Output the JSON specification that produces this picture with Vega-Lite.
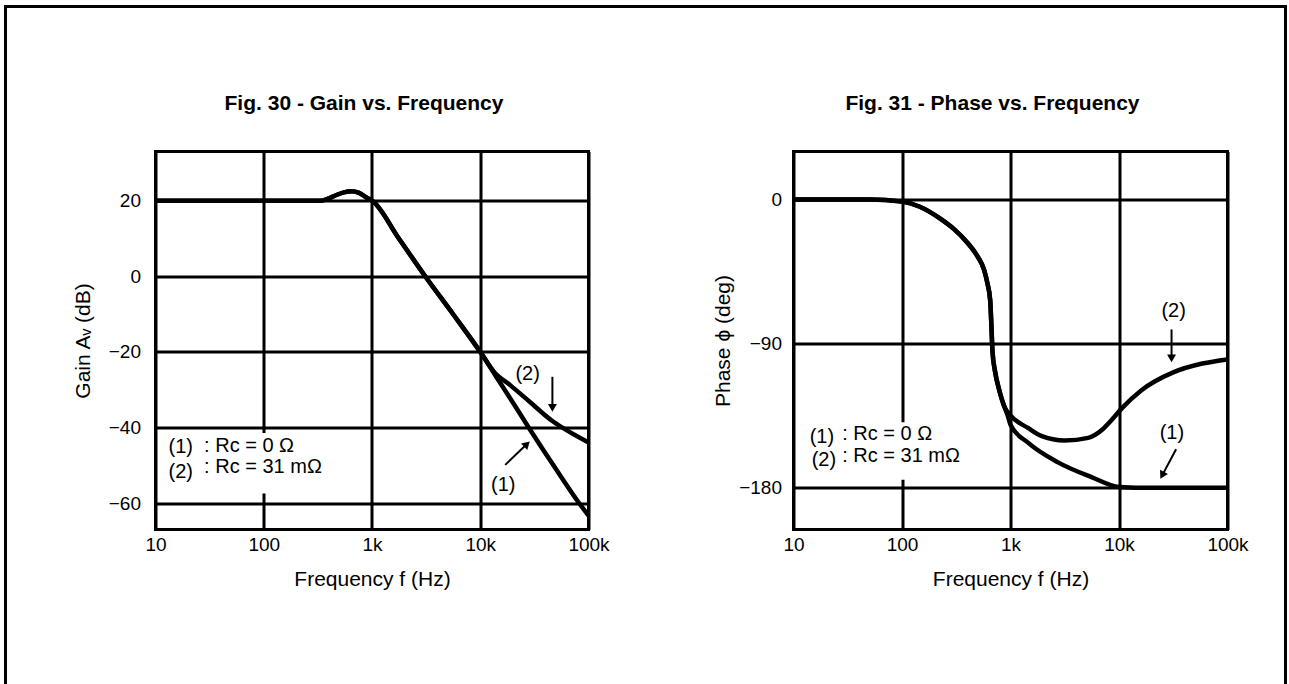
{
  "$schema": "https://vega.github.io/schema/vega-lite/v6.json",
  "background": "white",
  "padding": {"left": 2.5, "top": 3.5, "right": 0, "bottom": 0},
  "columns": 5,
  "spacing": 0,
  "bounds": "flush",
  "align": "each",
  "config": {
    "font": "Liberation Sans",
    "view": {"stroke": null},
    "axis": {
      "grid": true, "gridColor": "black", "gridWidth": 3, "gridOpacity": 1,
      "domain": false, "ticks": false, "tickSize": 0,
      "labelFontSize": 19, "labelColor": "black",
      "titleFontSize": 21, "titleFontWeight": "normal", "titleColor": "black"
    },
    "title": {"fontSize": 21, "fontWeight": "bold", "color": "black", "anchor": "middle"}
  },
  "concat": [
    {"width": 150, "height": 145, "data": {"values": [{}]}, "layer": [
      {"mark": {"type": "rule", "color": "black", "strokeWidth": 3, "strokeCap": "square"}, "encoding": {"y": {"datum": 1, "type": "quantitative", "scale": {"domain": [0, 1]}, "axis": null}}},
      {"mark": {"type": "rule", "color": "black", "strokeWidth": 3, "strokeCap": "square"}, "encoding": {"x": {"datum": 0, "type": "quantitative", "scale": {"domain": [0, 1]}, "axis": null}}}
    ]},
    {"width": 433, "height": 145, "data": {"values": [{}]},
      "mark": {"type": "rule", "color": "black", "strokeWidth": 3, "strokeCap": "square"}, "encoding": {"y": {"datum": 1, "type": "quantitative", "scale": {"domain": [0, 1]}, "axis": null}}},
    {"width": 205, "height": 145, "data": {"values": [{}]},
      "mark": {"type": "rule", "color": "black", "strokeWidth": 3, "strokeCap": "square"}, "encoding": {"y": {"datum": 1, "type": "quantitative", "scale": {"domain": [0, 1]}, "axis": null}}},
    {"width": 434, "height": 145, "data": {"values": [{}]},
      "mark": {"type": "rule", "color": "black", "strokeWidth": 3, "strokeCap": "square"}, "encoding": {"y": {"datum": 1, "type": "quantitative", "scale": {"domain": [0, 1]}, "axis": null}}},
    {"width": 58, "height": 145, "data": {"values": [{}]}, "layer": [
      {"mark": {"type": "rule", "color": "black", "strokeWidth": 3, "strokeCap": "square"}, "encoding": {"y": {"datum": 1, "type": "quantitative", "scale": {"domain": [0, 1]}, "axis": null}}},
      {"mark": {"type": "rule", "color": "black", "strokeWidth": 3, "strokeCap": "square"}, "encoding": {"x": {"datum": 1, "type": "quantitative", "scale": {"domain": [0, 1]}, "axis": null}}}
    ]},
    {"width": 150, "height": 532, "data": {"values": [{}]},
      "mark": {"type": "rule", "color": "black", "strokeWidth": 3, "strokeCap": "square"}, "encoding": {"x": {"datum": 0, "type": "quantitative", "scale": {"domain": [0, 1]}, "axis": null}}},
    {
      "width": 433, "height": 378,
      "view": {"stroke": "black", "strokeWidth": 3},
      "title": {"text": "Fig. 30 - Gain vs. Frequency", "offset": 38, "dx": -8},
      "data": {"values": [
        {"kind": "box", "f": 12, "v": -41.5, "f2": 290, "v2": -57.5},
        {"kind": "curve", "series": "1", "f": 10, "v": 20},
        {"kind": "curve", "series": "1", "f": 100, "v": 20},
        {"kind": "curve", "series": "1", "f": 200, "v": 20},
        {"kind": "curve", "series": "1", "f": 340, "v": 20},
        {"kind": "curve", "series": "1", "f": 400, "v": 20.6},
        {"kind": "curve", "series": "1", "f": 470, "v": 21.5},
        {"kind": "curve", "series": "1", "f": 550, "v": 22.2},
        {"kind": "curve", "series": "1", "f": 650, "v": 22.5},
        {"kind": "curve", "series": "1", "f": 750, "v": 22.1},
        {"kind": "curve", "series": "1", "f": 850, "v": 21.2},
        {"kind": "curve", "series": "1", "f": 930, "v": 20.5},
        {"kind": "curve", "series": "1", "f": 1000, "v": 20},
        {"kind": "curve", "series": "1", "f": 1770, "v": 10},
        {"kind": "curve", "series": "1", "f": 3100, "v": 0},
        {"kind": "curve", "series": "1", "f": 5600, "v": -10},
        {"kind": "curve", "series": "1", "f": 10000, "v": -20},
        {"kind": "curve", "series": "1", "f": 14000, "v": -26.5},
        {"kind": "curve", "series": "1", "f": 20000, "v": -33.4},
        {"kind": "curve", "series": "1", "f": 28000, "v": -40},
        {"kind": "curve", "series": "1", "f": 50000, "v": -51},
        {"kind": "curve", "series": "1", "f": 81800, "v": -60},
        {"kind": "curve", "series": "1", "f": 100000, "v": -63.3},
        {"kind": "curve", "series": "2", "f": 10, "v": 20},
        {"kind": "curve", "series": "2", "f": 100, "v": 20},
        {"kind": "curve", "series": "2", "f": 200, "v": 20},
        {"kind": "curve", "series": "2", "f": 340, "v": 20},
        {"kind": "curve", "series": "2", "f": 400, "v": 20.6},
        {"kind": "curve", "series": "2", "f": 470, "v": 21.5},
        {"kind": "curve", "series": "2", "f": 550, "v": 22.2},
        {"kind": "curve", "series": "2", "f": 650, "v": 22.5},
        {"kind": "curve", "series": "2", "f": 750, "v": 22.1},
        {"kind": "curve", "series": "2", "f": 850, "v": 21.2},
        {"kind": "curve", "series": "2", "f": 930, "v": 20.5},
        {"kind": "curve", "series": "2", "f": 1000, "v": 20},
        {"kind": "curve", "series": "2", "f": 1770, "v": 10},
        {"kind": "curve", "series": "2", "f": 3100, "v": 0},
        {"kind": "curve", "series": "2", "f": 5600, "v": -10},
        {"kind": "curve", "series": "2", "f": 10000, "v": -20},
        {"kind": "curve", "series": "2", "f": 13400, "v": -25.3},
        {"kind": "curve", "series": "2", "f": 18900, "v": -28.8},
        {"kind": "curve", "series": "2", "f": 28600, "v": -33.2},
        {"kind": "curve", "series": "2", "f": 46400, "v": -38.3},
        {"kind": "curve", "series": "2", "f": 57000, "v": -40},
        {"kind": "curve", "series": "2", "f": 100000, "v": -44},
        {"kind": "arrow", "f": 46400, "v": -26.6, "f2": 46400, "v2": -34.8},
        {"kind": "arrow", "f": 17000, "v": -49.9, "f2": 27000, "v2": -44.4},
        {"kind": "headdown", "f": 46400, "v": -34.8},
        {"kind": "headdiag", "f": 27000, "v": -44.4},
        {"kind": "legend", "f": 13.2, "v": -46.8, "label": "(1)"},
        {"kind": "legend", "f": 28.1, "v": -46.4, "label": ": Rc = 0 Ω"},
        {"kind": "legend", "f": 13.2, "v": -53.5, "label": "(2)"},
        {"kind": "legend", "f": 28.1, "v": -52.1, "label": ": Rc = 31 mΩ"},
        {"kind": "callout", "f": 27400, "v": -27.4, "label": "(2)"},
        {"kind": "callout", "f": 16300, "v": -56.7, "label": "(1)"}
      ]},
      "layer": [
        {
          "transform": [{"filter": "datum.kind == 'box'"}],
          "mark": {"type": "rect", "color": "white"},
          "encoding": {
            "x": {"field": "f", "type": "quantitative",
              "scale": {"type": "log", "domain": [10, 100000], "nice": false},
              "axis": {"values": [10, 100, 1000, 10000, 100000], "labelExpr": "datum.value >= 1000 ? format(datum.value / 1000, 'd') + 'k' : format(datum.value, 'd')", "labelFlush": false, "labelPadding": 6, "title": "Frequency f (Hz)", "titlePadding": 14}},
            "x2": {"field": "f2"},
            "y": {"field": "v", "type": "quantitative",
              "scale": {"domain": [-67, 33], "nice": false, "zero": false},
              "axis": {"values": [-60, -40, -20, 0, 20], "labelPadding": 15, "title": "Gain Aᵥ (dB)", "titlePadding": 15}},
            "y2": {"field": "v2"}
          }
        },
        {
          "transform": [{"filter": "datum.kind == 'curve'"}],
          "mark": {"type": "line", "interpolate": "monotone", "color": "black", "strokeWidth": 4.5},
          "encoding": {
            "x": {"field": "f", "type": "quantitative"},
            "y": {"field": "v", "type": "quantitative"},
            "detail": {"field": "series"}
          }
        },
        {
          "transform": [{"filter": "datum.kind == 'arrow'"}],
          "mark": {"type": "rule", "color": "black", "strokeWidth": 2},
          "encoding": {
            "x": {"field": "f", "type": "quantitative"}, "x2": {"field": "f2"},
            "y": {"field": "v", "type": "quantitative"}, "y2": {"field": "v2"}
          }
        },
        {
          "transform": [{"filter": "datum.kind == 'headdown'"}],
          "mark": {"type": "point", "shape": "triangle-down", "filled": true, "color": "black", "size": 80, "opacity": 1},
          "encoding": {"x": {"field": "f", "type": "quantitative"}, "y": {"field": "v", "type": "quantitative"}}
        },
        {
          "transform": [{"filter": "datum.kind == 'headdiag'"}],
          "mark": {"type": "point", "shape": "triangle-up", "angle": 46, "filled": true, "color": "black", "size": 80, "opacity": 1},
          "encoding": {"x": {"field": "f", "type": "quantitative"}, "y": {"field": "v", "type": "quantitative"}}
        },
        {
          "transform": [{"filter": "datum.kind == 'legend'"}],
          "mark": {"type": "text", "align": "left", "baseline": "alphabetic", "fontSize": 20, "color": "black"},
          "encoding": {"x": {"field": "f", "type": "quantitative"}, "y": {"field": "v", "type": "quantitative"}, "text": {"field": "label"}}
        },
        {
          "transform": [{"filter": "datum.kind == 'callout'"}],
          "mark": {"type": "text", "align": "center", "baseline": "alphabetic", "fontSize": 20, "color": "black"},
          "encoding": {"x": {"field": "f", "type": "quantitative"}, "y": {"field": "v", "type": "quantitative"}, "text": {"field": "label"}}
        }
      ]
    },
    {"width": 205, "height": 378, "data": {"values": [{}]}, "mark": {"type": "point", "opacity": 0}, "encoding": {}},
    {
      "width": 434, "height": 378,
      "view": {"stroke": "black", "strokeWidth": 3},
      "title": {"text": "Fig. 31 - Phase vs. Frequency", "offset": 38, "dx": -18},
      "data": {"values": [
        {"kind": "box", "f": 12, "v": -139, "f2": 290, "v2": -175},
        {"kind": "curve", "series": "1", "f": 10, "v": 0},
        {"kind": "curve", "series": "1", "f": 50, "v": 0},
        {"kind": "curve", "series": "1", "f": 100, "v": -1.3},
        {"kind": "curve", "series": "1", "f": 146, "v": -4.5},
        {"kind": "curve", "series": "1", "f": 225, "v": -11.9},
        {"kind": "curve", "series": "1", "f": 300, "v": -18.3},
        {"kind": "curve", "series": "1", "f": 399, "v": -26.8},
        {"kind": "curve", "series": "1", "f": 495, "v": -35.3},
        {"kind": "curve", "series": "1", "f": 571, "v": -43.9},
        {"kind": "curve", "series": "1", "f": 613, "v": -52.3},
        {"kind": "curve", "series": "1", "f": 650, "v": -63},
        {"kind": "curve", "series": "1", "f": 668, "v": -80},
        {"kind": "curve", "series": "1", "f": 682, "v": -94.7},
        {"kind": "curve", "series": "1", "f": 719, "v": -107},
        {"kind": "curve", "series": "1", "f": 789, "v": -119.2},
        {"kind": "curve", "series": "1", "f": 879, "v": -129.4},
        {"kind": "curve", "series": "1", "f": 944, "v": -135},
        {"kind": "curve", "series": "1", "f": 1000, "v": -140.6},
        {"kind": "curve", "series": "1", "f": 1450, "v": -151.8},
        {"kind": "curve", "series": "1", "f": 2740, "v": -164.1},
        {"kind": "curve", "series": "1", "f": 5580, "v": -173.3},
        {"kind": "curve", "series": "1", "f": 10000, "v": -179.4},
        {"kind": "curve", "series": "1", "f": 20000, "v": -180},
        {"kind": "curve", "series": "1", "f": 100000, "v": -180},
        {"kind": "curve", "series": "2", "f": 10, "v": 0},
        {"kind": "curve", "series": "2", "f": 50, "v": 0},
        {"kind": "curve", "series": "2", "f": 100, "v": -1.3},
        {"kind": "curve", "series": "2", "f": 146, "v": -4.5},
        {"kind": "curve", "series": "2", "f": 225, "v": -11.9},
        {"kind": "curve", "series": "2", "f": 300, "v": -18.3},
        {"kind": "curve", "series": "2", "f": 399, "v": -26.8},
        {"kind": "curve", "series": "2", "f": 495, "v": -35.3},
        {"kind": "curve", "series": "2", "f": 571, "v": -43.9},
        {"kind": "curve", "series": "2", "f": 613, "v": -52.3},
        {"kind": "curve", "series": "2", "f": 650, "v": -63},
        {"kind": "curve", "series": "2", "f": 668, "v": -80},
        {"kind": "curve", "series": "2", "f": 682, "v": -94.7},
        {"kind": "curve", "series": "2", "f": 719, "v": -107},
        {"kind": "curve", "series": "2", "f": 789, "v": -119.2},
        {"kind": "curve", "series": "2", "f": 879, "v": -129.4},
        {"kind": "curve", "series": "2", "f": 1000, "v": -134.8},
        {"kind": "curve", "series": "2", "f": 1450, "v": -142.6},
        {"kind": "curve", "series": "2", "f": 1920, "v": -147.5},
        {"kind": "curve", "series": "2", "f": 3160, "v": -150.4},
        {"kind": "curve", "series": "2", "f": 5200, "v": -148.8},
        {"kind": "curve", "series": "2", "f": 6900, "v": -144.1},
        {"kind": "curve", "series": "2", "f": 8550, "v": -137.6},
        {"kind": "curve", "series": "2", "f": 10600, "v": -130.4},
        {"kind": "curve", "series": "2", "f": 16000, "v": -119.2},
        {"kind": "curve", "series": "2", "f": 31600, "v": -107.9},
        {"kind": "curve", "series": "2", "f": 58600, "v": -102.4},
        {"kind": "curve", "series": "2", "f": 100000, "v": -99.8},
        {"kind": "arrow", "f": 30500, "v": -81.1, "f2": 30500, "v2": -99.1},
        {"kind": "arrow", "f": 33600, "v": -155.9, "f2": 25000, "v2": -172.2},
        {"kind": "headdown", "f": 30500, "v": -99.1},
        {"kind": "headdiag", "f": 25000, "v": -172.2},
        {"kind": "legend", "f": 14.1, "v": -152, "label": "(1)"},
        {"kind": "legend", "f": 28.1, "v": -150, "label": ": Rc = 0 Ω"},
        {"kind": "legend", "f": 14.7, "v": -166.3, "label": "(2)"},
        {"kind": "legend", "f": 28.1, "v": -163.9, "label": ": Rc = 31 mΩ"},
        {"kind": "callout", "f": 31900, "v": -73.4, "label": "(2)"},
        {"kind": "callout", "f": 30700, "v": -149.4, "label": "(1)"}
      ]},
      "layer": [
        {
          "transform": [{"filter": "datum.kind == 'box'"}],
          "mark": {"type": "rect", "color": "white"},
          "encoding": {
            "x": {"field": "f", "type": "quantitative",
              "scale": {"type": "log", "domain": [10, 100000], "nice": false},
              "axis": {"values": [10, 100, 1000, 10000, 100000], "labelExpr": "datum.value >= 1000 ? format(datum.value / 1000, 'd') + 'k' : format(datum.value, 'd')", "labelFlush": false, "labelPadding": 6, "title": "Frequency f (Hz)", "titlePadding": 14}},
            "x2": {"field": "f2"},
            "y": {"field": "v", "type": "quantitative",
              "scale": {"domain": [-206, 30], "nice": false, "zero": false},
              "axis": {"values": [-180, -90, 0], "labelPadding": 12, "title": "Phase ϕ (deg)", "titlePadding": 5}},
            "y2": {"field": "v2"}
          }
        },
        {
          "transform": [{"filter": "datum.kind == 'curve'"}],
          "mark": {"type": "line", "interpolate": "monotone", "color": "black", "strokeWidth": 4.5},
          "encoding": {
            "x": {"field": "f", "type": "quantitative"},
            "y": {"field": "v", "type": "quantitative"},
            "detail": {"field": "series"}
          }
        },
        {
          "transform": [{"filter": "datum.kind == 'arrow'"}],
          "mark": {"type": "rule", "color": "black", "strokeWidth": 2},
          "encoding": {
            "x": {"field": "f", "type": "quantitative"}, "x2": {"field": "f2"},
            "y": {"field": "v", "type": "quantitative"}, "y2": {"field": "v2"}
          }
        },
        {
          "transform": [{"filter": "datum.kind == 'headdown'"}],
          "mark": {"type": "point", "shape": "triangle-down", "filled": true, "color": "black", "size": 80, "opacity": 1},
          "encoding": {"x": {"field": "f", "type": "quantitative"}, "y": {"field": "v", "type": "quantitative"}}
        },
        {
          "transform": [{"filter": "datum.kind == 'headdiag'"}],
          "mark": {"type": "point", "shape": "triangle-up", "angle": 208, "filled": true, "color": "black", "size": 80, "opacity": 1},
          "encoding": {"x": {"field": "f", "type": "quantitative"}, "y": {"field": "v", "type": "quantitative"}}
        },
        {
          "transform": [{"filter": "datum.kind == 'legend'"}],
          "mark": {"type": "text", "align": "left", "baseline": "alphabetic", "fontSize": 20, "color": "black"},
          "encoding": {"x": {"field": "f", "type": "quantitative"}, "y": {"field": "v", "type": "quantitative"}, "text": {"field": "label"}}
        },
        {
          "transform": [{"filter": "datum.kind == 'callout'"}],
          "mark": {"type": "text", "align": "center", "baseline": "alphabetic", "fontSize": 20, "color": "black"},
          "encoding": {"x": {"field": "f", "type": "quantitative"}, "y": {"field": "v", "type": "quantitative"}, "text": {"field": "label"}}
        }
      ]
    },
    {"width": 58, "height": 532, "data": {"values": [{}]},
      "mark": {"type": "rule", "color": "black", "strokeWidth": 3, "strokeCap": "square"}, "encoding": {"x": {"datum": 1, "type": "quantitative", "scale": {"domain": [0, 1]}, "axis": null}}}
  ]
}
